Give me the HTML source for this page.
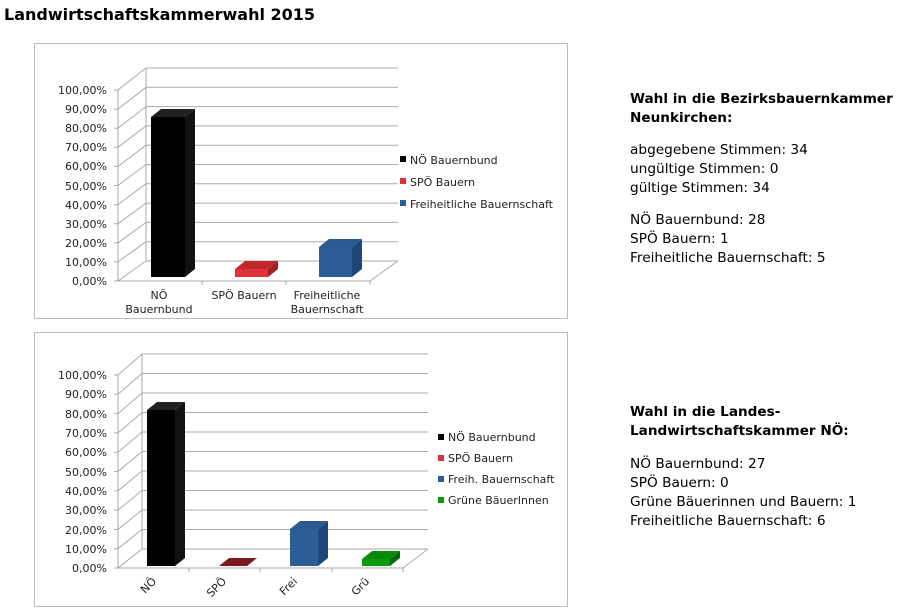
<!DOCTYPE html>
<html><head><meta charset="utf-8"><style>
html,body{margin:0;padding:0;background:#fff;width:900px;height:611px;overflow:hidden}
svg text{font-family:"DejaVu Sans","Liberation Sans",sans-serif}
</style></head><body>
<svg width="900" height="611" viewBox="0 0 900 611" xmlns="http://www.w3.org/2000/svg">
<text x="4" y="20" font-size="16" font-weight="bold" fill="#000">Landwirtschaftskammerwahl 2015</text>

<!-- Chart 1 -->
<rect x="34.5" y="43.5" width="533" height="275" fill="#fff" stroke="#bbb"/>
<g stroke="#aaa" stroke-width="1" fill="none">
<path d="M146 261H398M146 241.7H398M146 222.4H398M146 203.1H398M146 183.8H398M146 164.5H398M146 145.2H398M146 125.9H398M146 106.6H398M146 87.3H398M146 68H398"/>
<path d="M118 281L146 261M118 261.9L146 241.7M118 242.8L146 222.4M118 223.7L146 203.1M118 204.6L146 183.8M118 185.5L146 164.5M118 166.4L146 145.2M118 147.3L146 125.9M118 128.2L146 106.6M118 109.1L146 87.3M118 90L146 68"/>
<path d="M118 90V281H370L398 261M146 68V261"/>
<path d="M114 281H118M114 261.9H118M114 242.8H118M114 223.7H118M114 204.6H118M114 185.5H118M114 166.4H118M114 147.3H118M114 128.2H118M114 109.1H118M114 90H118M202 281V285M286 281V285M370 281V285"/>
</g>
<g font-size="11" fill="#222" text-anchor="end">
<text x="107" y="285">0,00%</text><text x="107" y="266">10,00%</text><text x="107" y="247">20,00%</text><text x="107" y="228">30,00%</text><text x="107" y="209">40,00%</text><text x="107" y="190">50,00%</text><text x="107" y="170">60,00%</text><text x="107" y="151">70,00%</text><text x="107" y="132">80,00%</text><text x="107" y="113">90,00%</text><text x="107" y="94">100,00%</text>
</g>
<polygon points="151,117 161,109 195,109 185,117" fill="#222"/>
<polygon points="185,117 195,109 195,269 185,277" fill="#111"/>
<rect x="151" y="117" width="34" height="160" fill="#000"/>
<polygon points="235,269 245,261 278,261 268,269" fill="#c0282e"/>
<polygon points="268,269 278,261 278,269 268,277" fill="#a01e24"/>
<rect x="235" y="269" width="33" height="8" fill="#e0323a"/>
<polygon points="319,247 329,239 362,239 352,247" fill="#2a5a90"/>
<polygon points="352,247 362,239 362,269 352,277" fill="#1e4778"/>
<rect x="319" y="247" width="33" height="30" fill="#2c5d96"/>
<g font-size="11" fill="#222" text-anchor="middle">
<text x="159" y="299">NÖ</text><text x="159" y="313">Bauernbund</text>
<text x="244" y="299">SPÖ Bauern</text>
<text x="327" y="299">Freiheitliche</text><text x="327" y="313">Bauernschaft</text>
</g>
<g font-size="11" fill="#222">
<rect x="400" y="156" width="6" height="6" fill="#000"/><text x="410" y="164">NÖ Bauernbund</text>
<rect x="400" y="178" width="6" height="6" fill="#e0323a"/><text x="410" y="186">SPÖ Bauern</text>
<rect x="400" y="200" width="6" height="6" fill="#2c5d96"/><text x="410" y="208">Freiheitliche Bauernschaft</text>
</g>

<!-- Chart 2 -->
<rect x="34.5" y="332.5" width="533" height="274" fill="#fff" stroke="#bbb"/>
<g stroke="#aaa" stroke-width="1" fill="none">
<path d="M142 549H428M142 529.5H428M142 510H428M142 490.5H428M142 471H428M142 451.5H428M142 432H428M142 412.5H428M142 393H428M142 373.5H428M142 354H428"/>
<path d="M118 568L142 549M118 548.7L142 529.5M118 529.4L142 510M118 510.1L142 490.5M118 490.8L142 471M118 471.5L142 451.5M118 452.2L142 432M118 432.9L142 412.5M118 413.6L142 393M118 394.3L142 373.5M118 375L142 354"/>
<path d="M118 375V568H403L428 549M142 354V549"/>
<path d="M114 568H118M114 548.7H118M114 529.4H118M114 510.1H118M114 490.8H118M114 471.5H118M114 452.2H118M114 432.9H118M114 413.6H118M114 394.3H118M114 375H118M189 568V572M260 568V572M332 568V572M403 568V572"/>
</g>
<g font-size="11" fill="#222" text-anchor="end">
<text x="107" y="572">0,00%</text><text x="107" y="553">10,00%</text><text x="107" y="534">20,00%</text><text x="107" y="514">30,00%</text><text x="107" y="495">40,00%</text><text x="107" y="476">50,00%</text><text x="107" y="456">60,00%</text><text x="107" y="437">70,00%</text><text x="107" y="418">80,00%</text><text x="107" y="398">90,00%</text><text x="107" y="379">100,00%</text>
</g>
<polygon points="147,410 157,402 185,402 175,410" fill="#222"/>
<polygon points="175,410 185,402 185,558 175,566" fill="#111"/>
<rect x="147" y="410" width="28" height="156" fill="#000"/>
<polygon points="219,566 229,558 257,558 247,566" fill="#7a1a1e"/>
<polygon points="290,529 300,521 328,521 318,529" fill="#2a5a90"/>
<polygon points="318,529 328,521 328,558 318,566" fill="#1e4778"/>
<rect x="290" y="529" width="28" height="37" fill="#2c5d96"/>
<polygon points="362,559 372,551 400,551 390,559" fill="#0a8a0a"/>
<polygon points="390,559 400,551 400,558 390,566" fill="#056b05"/>
<rect x="362" y="559" width="28" height="7" fill="#0c9a0c"/>
<g font-size="11" fill="#222" text-anchor="end">
<text transform="translate(157,582) rotate(-45)">NÖ</text>
<text transform="translate(227,582) rotate(-45)">SPÖ</text>
<text transform="translate(298,582) rotate(-45)">Frei</text>
<text transform="translate(370,582) rotate(-45)">Grü</text>
</g>
<g font-size="11" fill="#222">
<rect x="438" y="434" width="6" height="6" fill="#000"/><text x="448" y="441">NÖ Bauernbund</text>
<rect x="438" y="455" width="6" height="6" fill="#e0323a"/><text x="448" y="462">SPÖ Bauern</text>
<rect x="438" y="476" width="6" height="6" fill="#2c5d96"/><text x="448" y="483">Freih. Bauernschaft</text>
<rect x="438" y="497" width="6" height="6" fill="#0c9a0c"/><text x="448" y="504">Grüne BäuerInnen</text>
</g>

<!-- Right text -->
<g font-size="13.7" fill="#000">
<g font-weight="bold" font-size="13.6">
<text x="630" y="103">Wahl in die Bezirksbauernkammer</text>
<text x="630" y="122">Neunkirchen:</text>
<text x="630" y="416">Wahl in die Landes-</text>
<text x="630" y="435">Landwirtschaftskammer NÖ:</text>
</g>
<text x="630" y="154">abgegebene Stimmen: 34</text>
<text x="630" y="173">ungültige Stimmen: 0</text>
<text x="630" y="192">gültige Stimmen: 34</text>
<text x="630" y="224">NÖ Bauernbund: 28</text>
<text x="630" y="243">SPÖ Bauern: 1</text>
<text x="630" y="262">Freiheitliche Bauernschaft: 5</text>
<text x="630" y="468">NÖ Bauernbund: 27</text>
<text x="630" y="487">SPÖ Bauern: 0</text>
<text x="630" y="506">Grüne Bäuerinnen und Bauern: 1</text>
<text x="630" y="525">Freiheitliche Bauernschaft: 6</text>
</g>
</svg>
</body></html>
